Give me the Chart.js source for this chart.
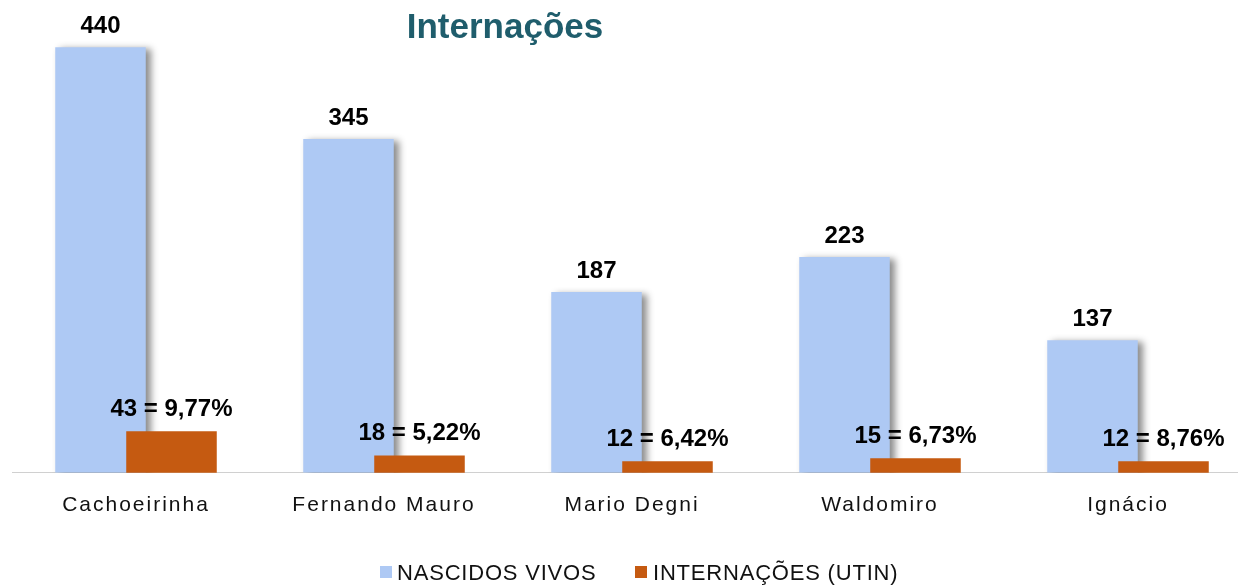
<!DOCTYPE html>
<html><head><meta charset="utf-8">
<script src="https://cdn.jsdelivr.net/npm/chart.js@4"></script>
<style>
html,body{margin:0;padding:0;background:#fff;overflow:hidden;width:1238px;height:586px}
#wrap{position:absolute;left:0;top:0;width:1260px;height:586px}
</style></head>
<body><div id="wrap"><canvas id="c" width="1260" height="586"></canvas></div>
<script>
const categories = ['Cachoeirinha', 'Fernando Mauro', 'Mario Degni', 'Waldomiro', 'Ignácio'];
const nascidosVivos = [440, 345, 187, 223, 137];
const internacoes = [43, 18, 12, 15, 12];
const seriesNames = ['NASCIDOS VIVOS', 'INTERNAÇÕES (UTIN)'];
const seriesColors = ['#aec9f4', '#c55a11'];
const titleText = 'Internações';

const internacoesLabels = internacoes.map((v, i) =>
  v + ' = ' + (v / nascidosVivos[i] * 100).toFixed(2).replace('.', ',') + '%');

const FONT = "'Liberation Sans', Arial, sans-serif";
let drawingOrange = false;

const decor = {
  id: 'decor',
  beforeDraw(chart) { chart.ctx.letterSpacing = '2px'; },
  beforeDatasetsDraw(chart) { chart.ctx.letterSpacing = '0px'; },
  beforeDatasetDraw(chart, args) {
    if (args.index === 1 && !drawingOrange) return false; // drawn later, on top of the blue bars
    if (args.index === 0) {
      const ctx = chart.ctx;
      ctx.save();
      ctx.shadowColor = 'rgba(0,0,0,0.45)';
      ctx.shadowOffsetX = 5;
      ctx.shadowOffsetY = 2;
      ctx.shadowBlur = 7;
    }
  },
  afterDatasetDraw(chart, args) {
    if (args.index === 0) {
      chart.ctx.restore();
      drawingOrange = true;
      chart.getDatasetMeta(1).controller.draw();
      drawingOrange = false;
    }
  },
  afterDraw(chart) {
    const ctx = chart.ctx;
    ctx.save();
    ctx.letterSpacing = '0px';
    ctx.fillStyle = '#000';
    ctx.font = 'bold 24px ' + FONT;
    ctx.textAlign = 'center';
    ctx.textBaseline = 'alphabetic';
    chart.getDatasetMeta(0).data.forEach((bar, i) => {
      ctx.fillText(String(nascidosVivos[i]), bar.x, bar.y - 14);
    });
    chart.getDatasetMeta(1).data.forEach((bar, i) => {
      ctx.fillText(internacoesLabels[i], bar.x, bar.y - 15);
    });
    // title
    ctx.fillStyle = '#1f5d6c';
    ctx.font = 'bold 35px ' + FONT;
    ctx.fillText(titleText, 505, 38);
    // legend
    ctx.font = '22px ' + FONT;
    ctx.letterSpacing = '0.8px';
    ctx.textAlign = 'left';
    const items = [{x: 380, tx: 397}, {x: 635, tx: 653}];
    items.forEach((it, i) => {
      ctx.fillStyle = seriesColors[i];
      ctx.fillRect(it.x, 566, 12, 12);
      ctx.fillStyle = '#111';
      ctx.fillText(seriesNames[i], it.tx, 580);
    });
    ctx.restore();
  }
};

new Chart(document.getElementById('c'), {
  type: 'bar',
  data: {
    labels: categories,
    datasets: [
      { label: seriesNames[0], data: nascidosVivos, backgroundColor: seriesColors[0],
        categoryPercentage: 0.5726, barPercentage: 1.275 },
      { label: seriesNames[1], data: internacoes, backgroundColor: seriesColors[1],
        categoryPercentage: 0.5726, barPercentage: 1.275 }
    ]
  },
  options: {
    responsive: false,
    animation: false,
    layout: { padding: { left: 12, right: 8, top: 8.5, bottom: 48 } },
    plugins: { legend: { display: false }, title: { display: false }, tooltip: { enabled: false } },
    scales: {
      x: {
        grid: { display: false, drawTicks: false },
        border: { display: true, color: '#d0d0d0', width: 1 },
        ticks: { color: '#111', font: { family: FONT, size: 21 }, padding: 20, maxRotation: 0, autoSkip: false }
      },
      y: {
        display: false,
        min: 0, max: 480,
        grid: { display: false }
      }
    }
  },
  plugins: [decor]
});
</script>
</body></html>
